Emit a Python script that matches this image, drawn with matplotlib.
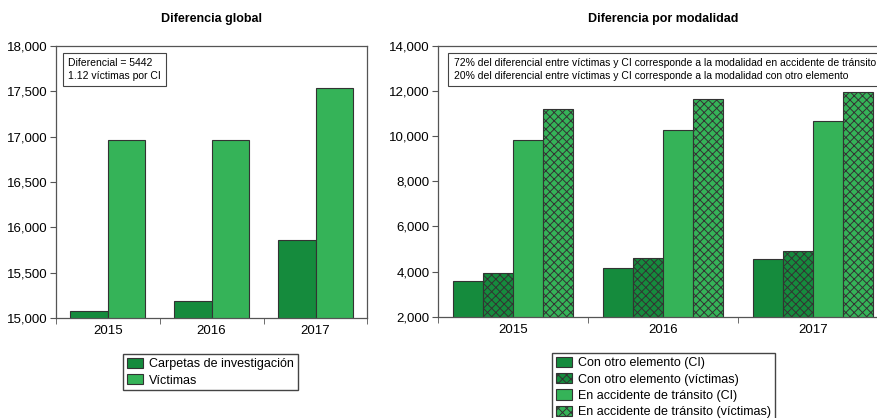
import matplotlib
matplotlib.use("Agg")
import matplotlib.pyplot as plt
import numpy as np
from matplotlib.patches import Patch
from matplotlib.ticker import FuncFormatter

plt.rcParams['font.family'] = ['Liberation Sans', 'DejaVu Sans']
plt.rcParams['hatch.linewidth'] = 0.7

years = ['2015', '2016', '2017']

# Diferencia global
carpetas = [15082, 15185, 15860]
victimas = [16963, 16963, 17533]

# Diferencia por modalidad
otro_ci = [3600, 4175, 4560]
otro_vic = [3925, 4615, 4930]
transito_ci = [9835, 10290, 10690]
transito_vic = [11195, 11635, 11960]

dark = '#158b3d'
light = '#35b358'
edge = '#333333'

W, H = 878, 418
fig = plt.figure(figsize=(W / 100, H / 100), dpi=100)

def px_axes(x0, x1, ytop, ybot):
    return fig.add_axes([x0 / W, 1 - ybot / H, (x1 - x0) / W, (ybot - ytop) / H])

comma = FuncFormatter(lambda v, p: f"{int(v):,}")

def style_axes(ax):
    for s in ax.spines.values():
        s.set_color('#555555')
        s.set_linewidth(0.9)
    ax.yaxis.set_major_formatter(comma)
    ax.tick_params(axis='y', labelsize=9.5, length=4, color='#555555', pad=2)
    ax.set_xticks(np.arange(len(years)))
    ax.set_xticklabels(years)
    ax.tick_params(axis='x', which='major', length=0, labelsize=9.5, pad=5)
    ax.set_xticks(np.arange(len(years) + 1) - 0.5, minor=True)
    ax.tick_params(axis='x', which='minor', length=4, color='#555555')
    ax.set_xlim(-0.5, len(years) - 0.5)

leg_kw = dict(loc='upper left', fontsize=9, frameon=True, fancybox=False,
              edgecolor='#444444', framealpha=1, handlelength=1.3, handleheight=0.9,
              handletextpad=0.5, borderpad=0.3, labelspacing=0.3, borderaxespad=0)

# left chart
ax1 = px_axes(55.7, 367.5, 46, 318)
x = np.arange(len(years))
w = 0.36
ax1.bar(x - w / 2, carpetas, w, color=dark, edgecolor=edge, linewidth=0.8,
        label='Carpetas de investigación')
ax1.bar(x + w / 2, victimas, w, color=light, edgecolor=edge, linewidth=0.8,
        label='Víctimas')
ax1.set_ylim(15000, 18000)
ax1.set_yticks(np.arange(15000, 18001, 500))
style_axes(ax1)
ax1.set_title('Diferencia global', fontsize=9, fontweight='bold', pad=17)
ax1.text(0.04, 0.955, 'Diferencial = 5442\n1.12 víctimas por CI', transform=ax1.transAxes,
         fontsize=7.5, va='top', ha='left', linespacing=1.3,
         bbox=dict(boxstyle='square,pad=0.5', fc='white', ec='#444444', lw=0.8))
fig.legend(handles=[Patch(fc=dark, ec=edge, lw=0.8, label='Carpetas de investigación'),
                    Patch(fc=light, ec=edge, lw=0.8, label='Víctimas')],
           bbox_to_anchor=(123 / W, 1 - 354 / H), **leg_kw)

# right chart
ax2 = px_axes(437.8, 888.5, 46, 316.7)
w2 = 0.2
series = [(otro_ci, dark, None, 'Con otro elemento (CI)'),
          (otro_vic, dark, 'xxxx', 'Con otro elemento (víctimas)'),
          (transito_ci, light, None, 'En accidente de tránsito (CI)'),
          (transito_vic, light, 'xxxx', 'En accidente de tránsito (víctimas)')]
handles = []
for i, (vals, col, hatch, lab) in enumerate(series):
    ax2.bar(x + (i - 1.5) * w2, vals, w2, color=col, edgecolor=edge, linewidth=0.8,
            hatch=hatch, label=lab)
    handles.append(Patch(fc=col, ec=edge, lw=0.8, hatch=hatch, label=lab))
ax2.set_ylim(2000, 14000)
ax2.set_yticks(np.arange(2000, 14001, 2000))
style_axes(ax2)
ax2.set_title('Diferencia por modalidad', fontsize=9, fontweight='bold', pad=17)
ax2.text(0.035, 0.955,
         '72% del diferencial entre víctimas y CI corresponde a la modalidad en accidente de tránsito\n'
         '20% del diferencial entre víctimas y CI corresponde a la modalidad con otro elemento',
         transform=ax2.transAxes, fontsize=7.5, va='top', ha='left', linespacing=1.3,
         bbox=dict(boxstyle='square,pad=0.5', fc='white', ec='#444444', lw=0.8))
fig.legend(handles=handles, bbox_to_anchor=(552 / W, 1 - 353 / H), **leg_kw)

fig.savefig('out.png', dpi=100)
